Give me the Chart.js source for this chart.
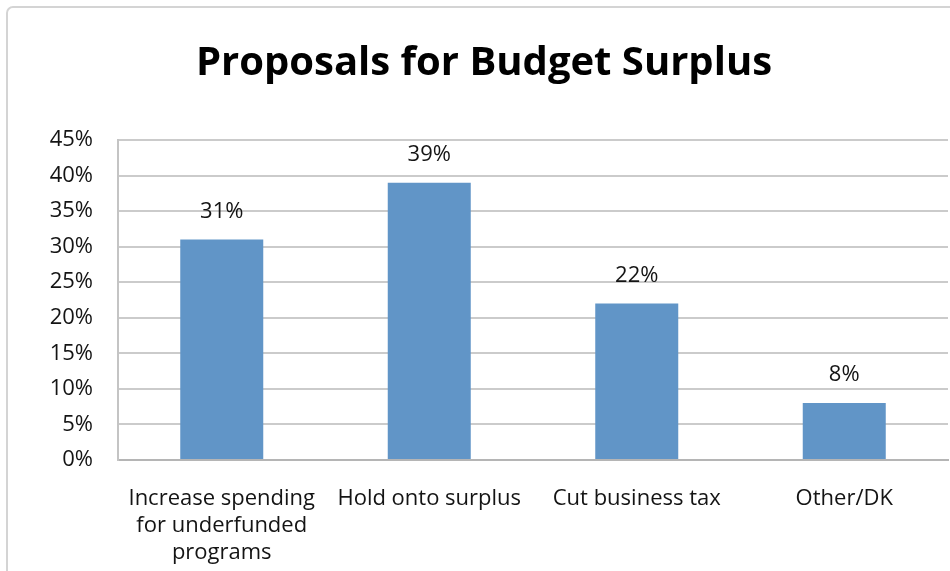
<!DOCTYPE html>
<html>
<head>
<meta charset="utf-8">
<title>Proposals for Budget Surplus</title>
<script src="https://cdn.jsdelivr.net/npm/chart.js@4.4.1/dist/chart.umd.min.js"></script>
<style>
  html, body { margin: 0; padding: 0; background: #ffffff; }
  #wrap { position: relative; width: 950px; height: 571px; }
</style>
</head>
<body>
<div id="wrap"><canvas id="chart" width="950" height="571"></canvas></div>
<script>
// Survey answers: what to do with the budget surplus
const categories = [
  ["Increase spending", "for underfunded", "programs"],
  "Hold onto surplus",
  "Cut business tax",
  "Other/DK"
];
const shares = [31, 39, 22, 8];          // percent of respondents
const yTicks = [0, 5, 10, 15, 20, 25, 30, 35, 40, 45];

const FONT = "'Open Sans', Lato, 'Liberation Sans', sans-serif";
const BAR_BLUE = '#6195c7';
const GRID_GREY = '#cbcbcb';
const TEXT = '#141414';

// Light frame around the whole chart, as in the spreadsheet export
const framePlugin = {
  id: 'frame',
  beforeDraw(chart) {
    const ctx = chart.ctx;
    ctx.save();
    ctx.fillStyle = '#ffffff';
    ctx.fillRect(0, 0, chart.width, chart.height);
    ctx.strokeStyle = '#d4d4d4';
    ctx.lineWidth = 2;
    ctx.beginPath();
    ctx.roundRect(7, 7, chart.width + 40, chart.height + 40, 6);
    ctx.stroke();
    ctx.restore();
  }
};

// Percentage above each bar
const valueLabels = {
  id: 'valueLabels',
  afterDatasetsDraw(chart) {
    const ctx = chart.ctx;
    const meta = chart.getDatasetMeta(0);
    ctx.save();
    ctx.font = "22px " + FONT;
    ctx.fillStyle = TEXT;
    ctx.textAlign = 'center';
    ctx.textBaseline = 'middle';
    meta.data.forEach((bar, i) => {
      ctx.fillText(shares[i] + '%', bar.x, bar.y - 28);
    });
    ctx.restore();
  }
};

new Chart(document.getElementById('chart'), {
  type: 'bar',
  data: {
    labels: categories,
    datasets: [{
      data: shares,
      backgroundColor: BAR_BLUE,
      borderWidth: 0,
      categoryPercentage: 1.0,
      barPercentage: 0.4
    }]
  },
  options: {
    responsive: false,
    animation: false,
    devicePixelRatio: 1,
    layout: { padding: { left: 20, right: 2, top: 0, bottom: 0 } },
    plugins: {
      legend: { display: false },
      tooltip: { enabled: false },
      title: {
        display: true,
        text: 'Proposals for Budget Surplus',
        color: '#000000',
        font: { family: FONT, size: 40, weight: 'bold' },
        padding: { top: 40, bottom: 52 }
      }
    },
    scales: {
      x: {
        grid: { display: false, drawTicks: false },
        border: { display: true, color: '#b5b5b5', width: 2 },
        ticks: {
          color: TEXT,
          font: { family: FONT, size: 22, lineHeight: 1.23 },
          padding: 25,
          maxRotation: 0,
          autoSkip: false
        },
        afterFit(scale) { scale.height = 111; }
      },
      y: {
        min: 0,
        max: 45,
        afterBuildTicks(scale) {
          scale.ticks = yTicks.map(v => ({ value: v }));
        },
        grid: { color: GRID_GREY, lineWidth: 2, drawTicks: false },
        border: { display: true, color: '#c4c4c4', width: 2 },
        ticks: {
          color: TEXT,
          font: { family: FONT, size: 22 },
          padding: 25,
          callback: v => v + '%'
        },
        afterFit(scale) { scale.width = 98; }
      }
    }
  },
  plugins: [framePlugin, valueLabels]
});
</script>
</body>
</html>
